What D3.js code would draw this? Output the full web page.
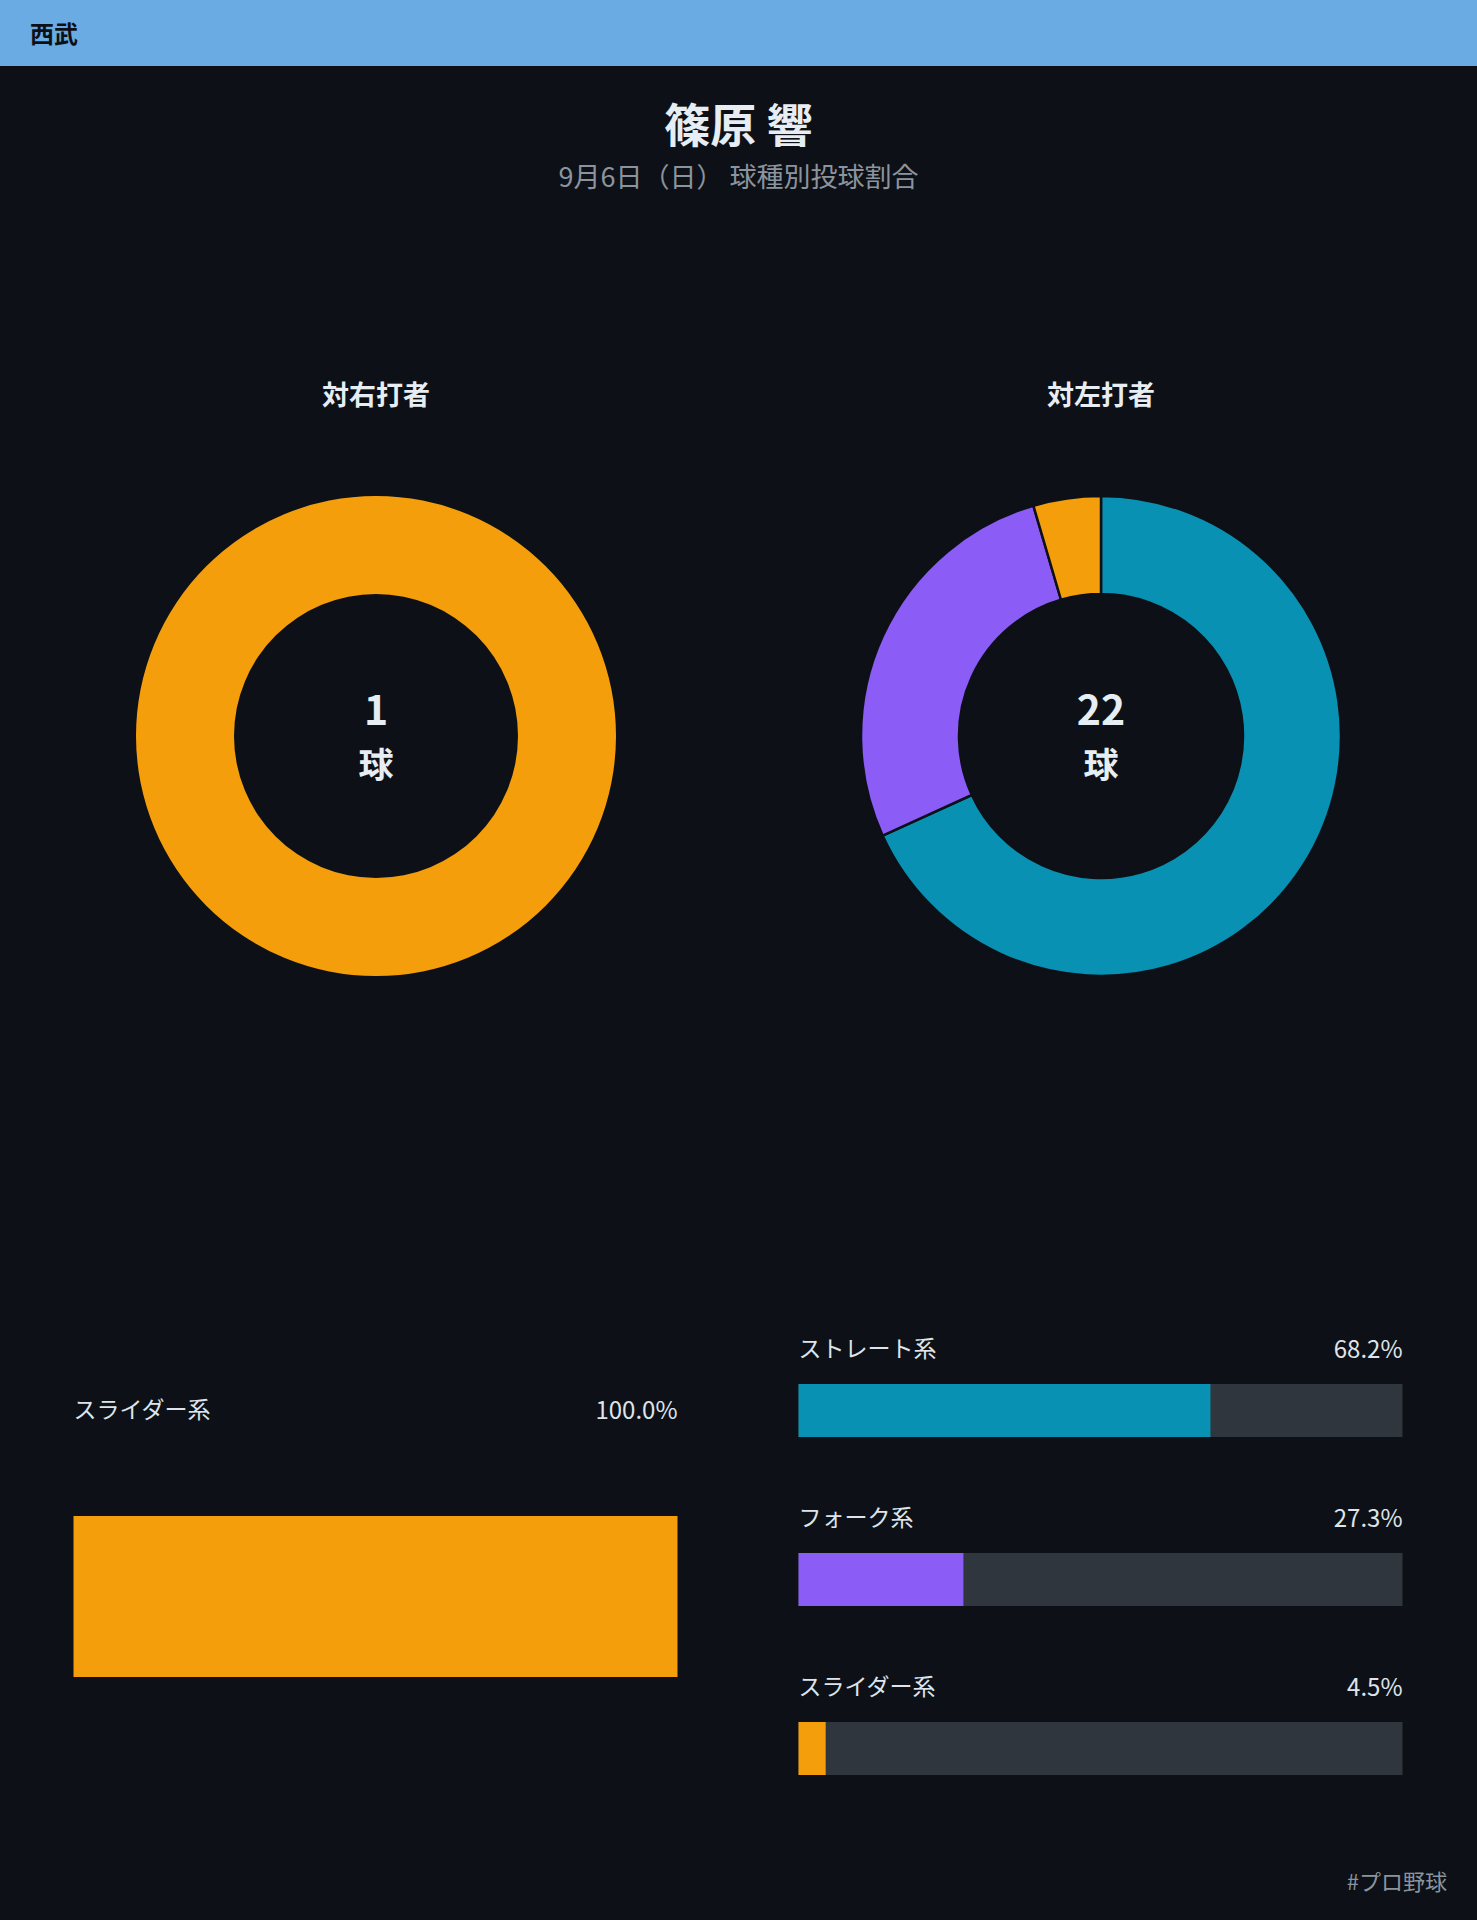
<!DOCTYPE html>
<html lang="ja">
<head>
<meta charset="utf-8">
<script src="https://cdn.jsdelivr.net/npm/d3@7/dist/d3.min.js"></script>
<style>
  html, body { margin: 0; padding: 0; background: #0d1117; }
  svg { display: block; }
  text { font-family: "Noto Sans CJK JP", "Noto Sans", sans-serif; }
</style>
</head>
<body>
<svg id="chart" width="1477" height="1920"></svg>
<script>
// ---- data ----
const team = "西武";
const pitcher = "篠原 響";
const subtitle = "9月6日（日） 球種別投球割合";
const footer = "#プロ野球";
const panelTitles = ["対右打者", "対左打者"];
const pitchTypesRight = ["スライダー系"];
const countsRight = [1];
const pitchTypesLeft = ["ストレート系", "フォーク系", "スライダー系"];
const countsLeft = [15, 6, 1];
const percentsRight = [100.0];
const percentsLeft = [68.2, 27.3, 4.5];
const typeColors = { "ストレート系": "#0891b2", "フォーク系": "#8b5cf6", "スライダー系": "#f59e0b" };

// ---- layout ----
const W = 1477, H = 1920;
const svg = d3.select("#chart");
const bg = "#0d1117";
svg.append("rect").attr("width", W).attr("height", H).attr("fill", bg);

// header
svg.append("rect").attr("width", W).attr("height", 66).attr("fill", "#6aabe3");
svg.append("text").attr("x", 30).attr("y", 32).attr("dominant-baseline", "central")
  .attr("font-size", 24).attr("font-weight", 700).attr("fill", "#0d1117").text(team);

// titles
svg.append("text").attr("x", W / 2).attr("y", 122).attr("text-anchor", "middle")
  .attr("dominant-baseline", "central").attr("font-size", 46).attr("font-weight", 700)
  .attr("fill", "#e6edf3").text(pitcher);
svg.append("text").attr("x", W / 2).attr("y", 175).attr("text-anchor", "middle")
  .attr("dominant-baseline", "central").attr("font-size", 27).attr("fill", "#8b949e").text(subtitle);

const colCenters = [376, 1101];
const donutCY = 736, rOuter = 240, rInner = 142;

const panels = [
  { title: panelTitles[0], types: pitchTypesRight, counts: countsRight, pcts: percentsRight },
  { title: panelTitles[1], types: pitchTypesLeft, counts: countsLeft, pcts: percentsLeft }
];

const pie = d3.pie().sort(null).value(d => d.count);
const arc = d3.arc().innerRadius(rInner).outerRadius(rOuter);

panels.forEach((p, i) => {
  const cx = colCenters[i];
  svg.append("text").attr("x", cx).attr("y", 393).attr("text-anchor", "middle")
    .attr("dominant-baseline", "central").attr("font-size", 27).attr("font-weight", 700)
    .attr("fill", "#e6edf3").text(p.title);

  const data = p.types.map((t, j) => ({ type: t, count: p.counts[j] }));
  const g = svg.append("g").attr("transform", `translate(${cx},${donutCY})`);
  g.selectAll("path").data(pie(data)).join("path")
    .attr("d", arc).attr("fill", d => typeColors[d.data.type])
    .attr("stroke", bg).attr("stroke-width", data.length > 1 ? 2.5 : 0);

  const total = d3.sum(p.counts);
  g.append("text").attr("y", -29).attr("text-anchor", "middle").attr("dominant-baseline", "central")
    .attr("font-size", 41).attr("font-weight", 700).attr("fill", "#e6edf3").text(total);
  g.append("text").attr("y", 26).attr("text-anchor", "middle").attr("dominant-baseline", "central")
    .attr("font-size", 35).attr("font-weight", 700).attr("fill", "#e6edf3").text("球");

  // bars
  const x0 = cx - 302.5, bw = 604;
  const xs = d3.scaleLinear().domain([0, 100]).range([x0, x0 + bw]);
  let labelYs, barTops, barH;
  if (p.types.length === 1) {
    labelYs = [1408]; barTops = [1516]; barH = 161;
  } else {
    const band = d3.scaleBand().domain(p.types).range([1330, 1837]).paddingInner(0).paddingOuter(0);
    labelYs = p.types.map(t => band(t) + 17);
    barTops = p.types.map(t => band(t) + 54);
    barH = 53;
  }
  const bg2 = svg.append("g");
  p.types.forEach((t, j) => {
    bg2.append("text").attr("x", x0).attr("y", labelYs[j]).attr("dominant-baseline", "central")
      .attr("font-size", 23).attr("fill", "#dfe4ea").text(t);
    bg2.append("text").attr("x", x0 + bw).attr("y", labelYs[j]).attr("text-anchor", "end")
      .attr("dominant-baseline", "central").attr("font-size", 24).attr("fill", "#dfe4ea")
      .text(p.pcts[j].toFixed(1) + "%");
    if (p.pcts[j] < 100) {
      bg2.append("rect").attr("x", xs(0)).attr("y", barTops[j]).attr("width", xs(100) - xs(0))
        .attr("height", barH).attr("fill", "#30363d");
    }
    bg2.append("rect").attr("x", xs(0)).attr("y", barTops[j]).attr("width", xs(p.pcts[j]) - xs(0))
      .attr("height", barH).attr("fill", typeColors[t]);
  });
});

svg.append("text").attr("x", 1447).attr("y", 1880).attr("text-anchor", "end")
  .attr("dominant-baseline", "central").attr("font-size", 22).attr("fill", "#8b949e").text(footer);
</script>
</body>
</html>
